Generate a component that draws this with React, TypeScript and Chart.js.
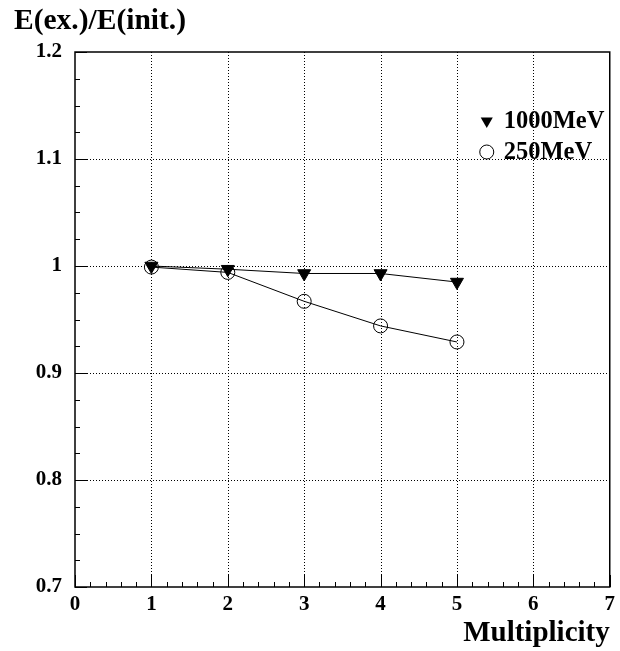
import React, { useEffect, useRef } from "react";
import { Chart, registerables } from "chart.js";

Chart.register(...registerables);

const multiplicity = [1, 2, 3, 4, 5];
const ratio1000MeV = [1.0, 0.997, 0.993, 0.993, 0.985];
const ratio250MeV = [0.999, 0.994, 0.967, 0.944, 0.929];
const seriesLabels = ["1000MeV", "250MeV"];
const yAxisTitle = "E(ex.)/E(init.)";
const xAxisTitle = "Multiplicity";

const FONT = "'Liberation Serif', 'Times New Roman', serif";

const decorPlugin = {
  id: "decor",
  beforeDatasetsDraw(chart: any) {
    const { ctx, chartArea } = chart;
    const xs = chart.scales.x;
    const ys = chart.scales.y;
    ctx.save();
    ctx.strokeStyle = "#000";
    ctx.lineWidth = 1;
    ctx.setLineDash([1, 2]);
    for (let v = 1; v < 7; v++) {
      const px = Math.round(xs.getPixelForValue(v)) + 0.5;
      ctx.beginPath();
      ctx.moveTo(px, chartArea.top);
      ctx.lineTo(px, chartArea.bottom);
      ctx.stroke();
    }
    for (let k = 1; k < 5; k++) {
      const v = 0.7 + k * 0.1;
      const py = Math.round(ys.getPixelForValue(v)) + 0.5;
      ctx.beginPath();
      ctx.moveTo(chartArea.left, py);
      ctx.lineTo(chartArea.right, py);
      ctx.stroke();
    }
    ctx.setLineDash([]);
    for (let i = 0; i <= 35; i++) {
      const v = i / 5;
      const px = Math.round(xs.getPixelForValue(v)) + 0.5;
      const len = i % 5 === 0 ? 12 : 5;
      ctx.beginPath();
      ctx.moveTo(px, chartArea.bottom);
      ctx.lineTo(px, chartArea.bottom - len);
      ctx.stroke();
    }
    for (let i = 0; i <= 20; i++) {
      const v = 0.7 + i * 0.025;
      const py = Math.round(ys.getPixelForValue(v)) + 0.5;
      const len = i % 4 === 0 ? 12 : 5;
      ctx.beginPath();
      ctx.moveTo(chartArea.left, py);
      ctx.lineTo(chartArea.left + len, py);
      ctx.stroke();
    }
    ctx.lineWidth = 1.5;
    ctx.strokeRect(
      chartArea.left,
      chartArea.top,
      chartArea.right - chartArea.left,
      chartArea.bottom - chartArea.top
    );
    ctx.restore();
  },
  afterDraw(chart: any) {
    const { ctx, chartArea } = chart;
    ctx.save();
    ctx.fillStyle = "#000";
    ctx.strokeStyle = "#000";
    ctx.lineWidth = 1;
    ctx.font = `bold 24.5px ${FONT}`;
    ctx.textBaseline = "middle";
    ctx.textAlign = "left";
    const mx = chartArea.right - 123;
    const y1 = chartArea.top + 69;
    const y2 = chartArea.top + 100;
    const r = 7;
    ctx.beginPath();
    ctx.moveTo(mx - r * 0.866, y1 - r * 0.5);
    ctx.lineTo(mx + r * 0.866, y1 - r * 0.5);
    ctx.lineTo(mx, y1 + r);
    ctx.closePath();
    ctx.fill();
    ctx.fillText(seriesLabels[0], mx + 17, y1 + 1);
    ctx.beginPath();
    ctx.arc(mx, y2, 7, 0, Math.PI * 2);
    ctx.stroke();
    ctx.fillText(seriesLabels[1], mx + 17, y2 + 1);
    ctx.restore();
  },
};

export default function App() {
  const ref = useRef<HTMLCanvasElement>(null);
  useEffect(() => {
    document.body.style.margin = "0";
    const canvas = ref.current!;
    const chart = new Chart(canvas, {
      type: "line",
      data: {
        datasets: [
          {
            label: seriesLabels[0],
            data: multiplicity.map((x, i) => ({ x, y: ratio1000MeV[i] })),
            borderColor: "#000",
            backgroundColor: "#000",
            borderWidth: 1,
            pointStyle: "triangle",
            rotation: 180,
            pointRadius: 7.5,
            pointBorderWidth: 1,
            pointBackgroundColor: "#000",
            pointBorderColor: "#000",
          },
          {
            label: seriesLabels[1],
            data: multiplicity.map((x, i) => ({ x, y: ratio250MeV[i] })),
            borderColor: "#000",
            backgroundColor: "rgba(0,0,0,0)",
            borderWidth: 1,
            pointStyle: "circle",
            pointRadius: 7,
            pointBorderWidth: 1,
            pointBackgroundColor: "rgba(0,0,0,0)",
            pointBorderColor: "#000",
          },
        ],
      },
      options: {
        responsive: false,
        animation: false,
        devicePixelRatio: 1,
        layout: { padding: { left: 14, right: 7, top: 0, bottom: 0 } },
        plugins: {
          legend: { display: false },
          tooltip: { enabled: false },
          title: {
            display: true,
            text: yAxisTitle,
            align: "start",
            color: "#000",
            font: { family: FONT, size: 29.5, weight: "bold" },
            padding: { top: 4, bottom: 12.6 },
          },
        },
        scales: {
          x: {
            type: "linear",
            min: 0,
            max: 7,
            ticks: {
              stepSize: 1,
              color: "#000",
              padding: 5,
              font: { family: FONT, size: 21, weight: "bold" },
              maxRotation: 0,
            },
            grid: { display: false, drawTicks: false },
            border: { display: false },
            title: {
              display: true,
              text: xAxisTitle,
              align: "end",
              color: "#000",
              font: { family: FONT, size: 29, weight: "bold" },
              padding: { top: 0, bottom: 0 },
            },
            afterFit(scale: any) {
              scale.height = 64;
            },
          },
          y: {
            type: "linear",
            min: 0.7,
            max: 1.2,
            ticks: {
              stepSize: 0.1,
              color: "#000",
              padding: 13,
              font: { family: FONT, size: 21, weight: "bold" },
              callback: (v: any) => {
                const s = Number(v).toFixed(1);
                return s.endsWith(".0") ? s.slice(0, -2) : s;
              },
            },
            grid: { display: false, drawTicks: false },
            border: { display: false },
            afterFit(scale: any) {
              scale.width = 61;
            },
          },
        },
      },
      plugins: [decorPlugin],
    });
    return () => chart.destroy();
  }, []);
  return (
    <canvas
      ref={ref}
      width={620}
      height={651}
      style={{ display: "block", width: 620, height: 651 }}
    />
  );
}
